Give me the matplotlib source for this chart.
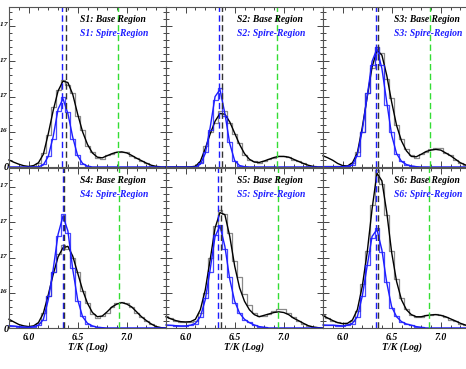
# dem - base versus spire temperature distributions for six slits

# require
import matplotlib
matplotlib.use( 'Agg' )
import matplotlib.pyplot as plt
from matplotlib.ticker import MultipleLocator, FixedLocator, FixedFormatter

# log temperature bin centres
LOGT = [ 5.80, 5.85, 5.90, 5.95, 6.00, 6.05, 6.10, 6.15, 6.20, 6.25, 6.30,
         6.35, 6.40, 6.45, 6.50, 6.55, 6.60, 6.65, 6.70, 6.75, 6.80, 6.85,
         6.90, 6.95, 7.00, 7.05, 7.10, 7.15, 7.20, 7.25, 7.30, 7.35, 7.40 ]

# emission measure, in units of 1e17; base region
S1_BASE_HIST = [ 0.0, 0.0, 0.0, 0.0, 0.0, 0.01, 0.05, 0.20, 0.45, 0.85, 1.10, 1.24, 1.17, 1.05, 0.72, 0.52, 0.30, 0.22, 0.13, 0.12, 0.17, 0.19, 0.22, 0.22, 0.21, 0.16, 0.13, 0.08, 0.06, 0.02, 0.01, 0.0, 0.0 ]
S1_BASE_FIT  = [ 0.10, 0.067, 0.04, 0.018, 0.008, 0.02, 0.06, 0.18, 0.47, 0.80, 1.08, 1.22, 1.20, 1.03, 0.75, 0.50, 0.32, 0.20, 0.14, 0.13, 0.16, 0.19, 0.21, 0.215, 0.20, 0.165, 0.125, 0.09, 0.055, 0.025, 0.008, 0.0, 0.0 ]
S2_BASE_HIST = [ 0.0, 0.0, 0.0, 0.0, 0.0, 0.0, 0.01, 0.07, 0.30, 0.50, 0.62, 0.80, 0.80, 0.62, 0.47, 0.34, 0.17, 0.10, 0.08, 0.06, 0.08, 0.12, 0.13, 0.15, 0.155, 0.14, 0.10, 0.08, 0.05, 0.02, 0.01, 0.0, 0.0 ]
S2_BASE_FIT  = [ 0.0, 0.0, 0.0, 0.0, 0.0, 0.002, 0.01, 0.08, 0.26, 0.47, 0.65, 0.76, 0.75, 0.64, 0.48, 0.32, 0.19, 0.11, 0.07, 0.065, 0.085, 0.11, 0.135, 0.15, 0.15, 0.14, 0.11, 0.08, 0.05, 0.025, 0.008, 0.0, 0.0 ]
S3_BASE_HIST = [ 0.02, 0.02, 0.01, 0.01, 0.0, 0.01, 0.05, 0.22, 0.50, 1.05, 1.40, 1.70, 1.62, 1.25, 0.98, 0.60, 0.40, 0.25, 0.17, 0.13, 0.19, 0.21, 0.25, 0.27, 0.27, 0.20, 0.17, 0.10, 0.06, 0.03, 0.01, 0.0, 0.0 ]
S3_BASE_FIT  = [ 0.16, 0.13, 0.095, 0.05, 0.02, 0.015, 0.06, 0.20, 0.56, 0.99, 1.42, 1.66, 1.59, 1.30, 0.92, 0.59, 0.37, 0.23, 0.15, 0.145, 0.18, 0.22, 0.24, 0.25, 0.24, 0.20, 0.16, 0.11, 0.06, 0.03, 0.01, 0.0, 0.0 ]
S4_BASE_HIST = [ 0.0, 0.0, 0.0, 0.01, 0.02, 0.03, 0.07, 0.22, 0.45, 0.80, 1.05, 1.18, 1.12, 1.00, 0.80, 0.52, 0.36, 0.20, 0.14, 0.17, 0.22, 0.30, 0.36, 0.37, 0.36, 0.30, 0.22, 0.16, 0.10, 0.05, 0.02, 0.0, 0.0 ]
S4_BASE_FIT  = [ 0.124, 0.086, 0.05, 0.03, 0.02, 0.03, 0.076, 0.21, 0.47, 0.76, 1.01, 1.14, 1.16, 1.02, 0.78, 0.54, 0.35, 0.22, 0.16, 0.17, 0.23, 0.30, 0.34, 0.36, 0.34, 0.30, 0.23, 0.16, 0.105, 0.057, 0.02, 0.005, 0.0 ]
S5_BASE_HIST = [ 0.17, 0.14, 0.10, 0.09, 0.08, 0.08, 0.10, 0.22, 0.50, 1.00, 1.45, 1.68, 1.62, 1.35, 0.95, 0.72, 0.48, 0.32, 0.22, 0.17, 0.17, 0.20, 0.24, 0.27, 0.27, 0.22, 0.16, 0.10, 0.06, 0.03, 0.01, 0.0, 0.0 ]
S5_BASE_FIT  = [ 0.16, 0.13, 0.105, 0.09, 0.086, 0.09, 0.124, 0.26, 0.54, 0.97, 1.42, 1.64, 1.61, 1.30, 0.88, 0.57, 0.38, 0.26, 0.19, 0.16, 0.18, 0.20, 0.22, 0.23, 0.22, 0.19, 0.14, 0.105, 0.067, 0.033, 0.014, 0.005, 0.0 ]
S6_BASE_HIST = [ 0.18, 0.14, 0.10, 0.08, 0.07, 0.06, 0.10, 0.24, 0.62, 1.10, 1.75, 2.25, 2.05, 1.60, 1.10, 0.70, 0.42, 0.27, 0.19, 0.15, 0.16, 0.18, 0.19, 0.20, 0.18, 0.16, 0.12, 0.10, 0.06, 0.04, 0.02, 0.0, 0.0 ]
S6_BASE_FIT  = [ 0.176, 0.14, 0.105, 0.076, 0.062, 0.067, 0.114, 0.26, 0.59, 1.07, 1.69, 2.20, 2.09, 1.64, 1.07, 0.66, 0.40, 0.26, 0.19, 0.16, 0.16, 0.176, 0.186, 0.19, 0.18, 0.16, 0.13, 0.10, 0.067, 0.043, 0.02, 0.01, 0.0 ]

# emission measure, in units of 1e17; spire region
S1_SPIRE_HIST = [ 0.0, 0.0, 0.0, 0.0, 0.0, 0.0, 0.0, 0.04, 0.16, 0.40, 0.80, 0.99, 0.78, 0.40, 0.17, 0.04, 0.01, 0.0, 0.0, 0.0, 0.0, 0.0, 0.0, 0.0, 0.0, 0.0, 0.0, 0.0, 0.0, 0.0, 0.0, 0.0, 0.0 ]
S1_SPIRE_FIT  = [ 0.0, 0.0, 0.0, 0.0, 0.0, 0.0, 0.003, 0.03, 0.15, 0.43, 0.82, 0.97, 0.76, 0.42, 0.16, 0.05, 0.012, 0.0, 0.0, 0.0, 0.0, 0.0, 0.0, 0.0, 0.0, 0.0, 0.0, 0.0, 0.0, 0.0, 0.0, 0.0, 0.0 ]
S2_SPIRE_HIST = [ 0.0, 0.0, 0.0, 0.0, 0.0, 0.0, 0.0, 0.05, 0.22, 0.52, 0.95, 1.12, 0.72, 0.36, 0.08, 0.02, 0.0, 0.0, 0.0, 0.0, 0.0, 0.0, 0.0, 0.0, 0.0, 0.0, 0.0, 0.0, 0.0, 0.0, 0.0, 0.0, 0.0 ]
S2_SPIRE_FIT  = [ 0.0, 0.0, 0.0, 0.0, 0.0, 0.0, 0.0, 0.04, 0.19, 0.56, 1.00, 1.10, 0.76, 0.33, 0.09, 0.02, 0.005, 0.0, 0.0, 0.0, 0.0, 0.0, 0.0, 0.0, 0.0, 0.0, 0.0, 0.0, 0.0, 0.0, 0.0, 0.0, 0.0 ]
S3_SPIRE_HIST = [ 0.0, 0.0, 0.0, 0.0, 0.0, 0.01, 0.03, 0.15, 0.50, 1.05, 1.45, 1.70, 1.45, 0.88, 0.50, 0.18, 0.08, 0.03, 0.01, 0.0, 0.0, 0.0, 0.0, 0.0, 0.0, 0.0, 0.0, 0.0, 0.0, 0.0, 0.0, 0.0, 0.0 ]
S3_SPIRE_FIT  = [ 0.005, 0.005, 0.005, 0.005, 0.005, 0.01, 0.03, 0.17, 0.52, 1.00, 1.50, 1.68, 1.40, 0.92, 0.45, 0.19, 0.08, 0.035, 0.015, 0.005, 0.0, 0.0, 0.0, 0.0, 0.0, 0.0, 0.0, 0.0, 0.0, 0.0, 0.0, 0.0, 0.0 ]
S4_SPIRE_HIST = [ 0.03, 0.03, 0.02, 0.01, 0.01, 0.02, 0.04, 0.12, 0.45, 0.80, 1.30, 1.62, 1.35, 0.85, 0.38, 0.17, 0.06, 0.03, 0.01, 0.0, 0.0, 0.0, 0.0, 0.0, 0.0, 0.0, 0.0, 0.0, 0.0, 0.0, 0.0, 0.0, 0.0 ]
S4_SPIRE_FIT  = [ 0.033, 0.028, 0.02, 0.014, 0.01, 0.02, 0.04, 0.12, 0.40, 0.83, 1.33, 1.59, 1.38, 0.83, 0.40, 0.16, 0.067, 0.03, 0.01, 0.005, 0.0, 0.0, 0.0, 0.0, 0.0, 0.0, 0.0, 0.0, 0.0, 0.0, 0.0, 0.0, 0.0 ]
S5_SPIRE_HIST = [ 0.04, 0.04, 0.03, 0.03, 0.03, 0.04, 0.06, 0.15, 0.42, 0.80, 1.32, 1.47, 1.12, 0.72, 0.36, 0.22, 0.12, 0.08, 0.04, 0.02, 0.01, 0.0, 0.0, 0.0, 0.0, 0.0, 0.0, 0.0, 0.0, 0.0, 0.0, 0.0, 0.0 ]
S5_SPIRE_FIT  = [ 0.043, 0.038, 0.033, 0.03, 0.03, 0.04, 0.067, 0.16, 0.40, 0.83, 1.30, 1.45, 1.16, 0.69, 0.38, 0.21, 0.124, 0.076, 0.043, 0.02, 0.01, 0.0, 0.0, 0.0, 0.0, 0.0, 0.0, 0.0, 0.0, 0.0, 0.0, 0.0, 0.0 ]
S6_SPIRE_HIST = [ 0.04, 0.04, 0.04, 0.03, 0.03, 0.04, 0.06, 0.15, 0.45, 0.90, 1.28, 1.42, 1.08, 0.66, 0.28, 0.17, 0.09, 0.05, 0.04, 0.02, 0.01, 0.0, 0.0, 0.0, 0.0, 0.0, 0.0, 0.0, 0.0, 0.0, 0.0, 0.0, 0.0 ]
S6_SPIRE_FIT  = [ 0.043, 0.04, 0.04, 0.035, 0.03, 0.04, 0.067, 0.16, 0.45, 0.88, 1.30, 1.40, 1.11, 0.64, 0.30, 0.16, 0.09, 0.057, 0.04, 0.02, 0.01, 0.0, 0.0, 0.0, 0.0, 0.0, 0.0, 0.0, 0.0, 0.0, 0.0, 0.0, 0.0 ]

# peak temperatures (dashed markers)
SLITS      = [ 'S1', 'S2', 'S3', 'S4', 'S5', 'S6' ]
SPIRE_PEAK = [ 6.343, 6.336, 6.337, 6.347, 6.335, 6.340 ]
BASE_PEAK  = [ 6.380, 6.370, 6.360, 6.360, 6.365, 6.360 ]
HOT_LINE   = [ 6.91, 6.936, 6.89, 6.92, 6.94, 6.88 ]

# axis labels
YTICKS  = [ 0.0, 0.5, 1.0, 1.5, 2.0 ]
YLABELS = [ '0', r'5.0$\times$10$^{16}$', r'1.0$\times$10$^{17}$', r'1.5$\times$10$^{17}$', r'2.0$\times$10$^{17}$' ]
XTICKS  = [ 6.0, 6.5, 7.0 ]
XLABELS = [ '6.0', '6.5', '7.0' ]

# configure
GRAY  = '#8a8a8a'
BLUE  = '#1c1cff'
GREEN = '#33dd33'
FONT  = dict( family='Liberation Serif', style='italic', weight='bold' )
plt.rcParams[ 'mathtext.fontset' ] = 'custom'
plt.rcParams[ 'mathtext.rm' ]      = 'Liberation Serif:italic:bold'
plt.rcParams[ 'mathtext.it' ]      = 'Liberation Serif:italic:bold'

base_hist  = [ S1_BASE_HIST, S2_BASE_HIST, S3_BASE_HIST, S4_BASE_HIST, S5_BASE_HIST, S6_BASE_HIST ]
base_fit   = [ S1_BASE_FIT, S2_BASE_FIT, S3_BASE_FIT, S4_BASE_FIT, S5_BASE_FIT, S6_BASE_FIT ]
spire_hist = [ S1_SPIRE_HIST, S2_SPIRE_HIST, S3_SPIRE_HIST, S4_SPIRE_HIST, S5_SPIRE_HIST, S6_SPIRE_HIST ]
spire_fit  = [ S1_SPIRE_FIT, S2_SPIRE_FIT, S3_SPIRE_FIT, S4_SPIRE_FIT, S5_SPIRE_FIT, S6_SPIRE_FIT ]

# initialize; panels butt against each other, right column runs off the page
W, H   = 466.0, 369.0
figure = plt.figure( figsize=( W / 100, H / 100 ), dpi=100 )
lefts  = [ 9, 166, 323 ]
tops   = [ 6.5, 167.5 ]
pw, ph = 157, 160.5

for i, slit in enumerate( SLITS ) :

	row, col = divmod( i, 3 )
	axis = figure.add_axes( [ lefts[ col ] / W, 1 - ( tops[ row ] + ph ) / H, pw / W, ph / H ] )

	# histograms, then fits
	axis.step( LOGT, base_hist[ i ], where='mid', color=GRAY, lw=0.9 )
	axis.plot( LOGT, base_fit[ i ], color='black', lw=1.0, clip_on=False )
	axis.step( LOGT, spire_hist[ i ], where='mid', color=BLUE, lw=0.9, alpha=0.8 )
	axis.plot( LOGT, spire_fit[ i ], color=BLUE, lw=1.0, clip_on=False )

	# peak markers
	axis.axvline( SPIRE_PEAK[ i ], color=BLUE, lw=1.0, dashes=( 4.5, 2.5 ) )
	axis.axvline( BASE_PEAK[ i ], color='#333333', lw=1.0, dashes=( 4.5, 2.5 ) )
	axis.axvline( HOT_LINE[ i ], color=GREEN, lw=1.0, dashes=( 4.5, 2.5 ) )

	# legends as text
	axis.text( 71 / pw, 1 - 13 / ph, slit + ': Base Region', transform=axis.transAxes, color='black', fontsize=6.9, va='center', **FONT )
	axis.text( 71 / pw, 1 - 27 / ph, slit + ': Spire-Region', transform=axis.transAxes, color=BLUE, fontsize=6.9, va='center', **FONT )

	# scales
	axis.set_xlim( 5.8, 7.4 )
	axis.set_ylim( 0, 2.28 )
	axis.xaxis.set_major_locator( FixedLocator( XTICKS ) )
	axis.xaxis.set_minor_locator( MultipleLocator( 0.1 ) )
	axis.yaxis.set_major_locator( FixedLocator( YTICKS ) )
	axis.yaxis.set_minor_locator( MultipleLocator( 0.1 ) )
	axis.tick_params( which='both', direction='in', top=True, right=True, color='#444444', width=0.7 )
	axis.tick_params( which='major', length=4.0 )
	axis.tick_params( which='minor', length=2.2 )
	for spine in axis.spines.values() : spine.set_color( '#555555' ); spine.set_linewidth( 0.8 )

	# labels only on the outer edges
	if col == 0 :
		axis.yaxis.set_major_formatter( FixedFormatter( YLABELS ) )
		axis.tick_params( axis='y', pad=0.0, labelsize=7.5 )
		for label in axis.get_yticklabels() : label.set( **FONT )
	else :
		axis.set_yticklabels( [] )

	if row == 1 :
		axis.xaxis.set_major_formatter( FixedFormatter( XLABELS ) )
		axis.tick_params( axis='x', pad=3.5, labelsize=7 )
		for label in axis.get_xticklabels() : label.set( **FONT )
		axis.set_xlabel( 'T/K (Log)', fontsize=7, labelpad=0.5, **FONT )
	else :
		axis.set_xticklabels( [] )

# save
plt.savefig( 'out.png', dpi=100 )
